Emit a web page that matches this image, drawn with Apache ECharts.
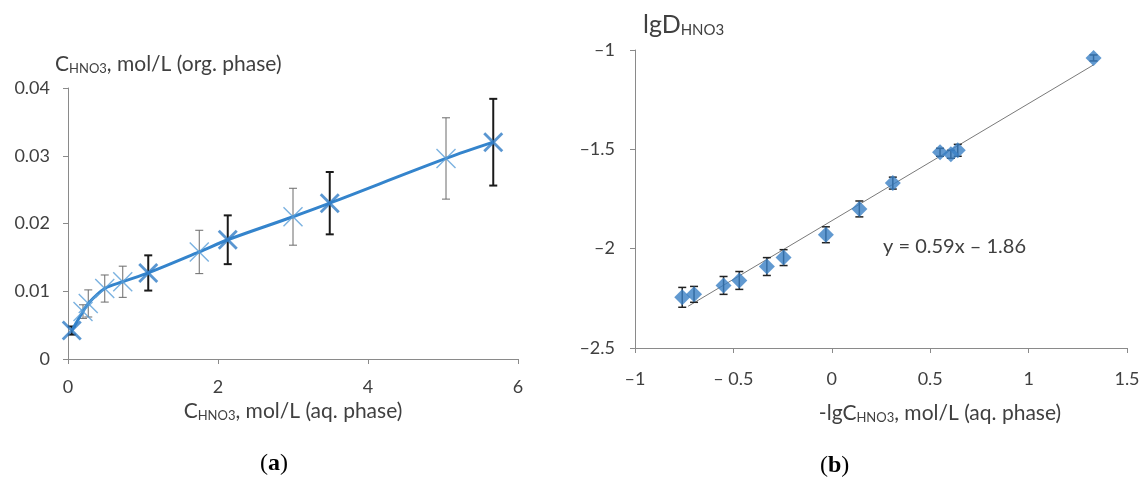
<!DOCTYPE html>
<html>
<head>
<meta charset="utf-8">
<script src="https://cdn.jsdelivr.net/npm/echarts/dist/echarts.min.js"></script>
<style>
  html, body { margin: 0; padding: 0; background: #fff; }
  #main { width: 1142px; height: 479px; }
</style>
</head>
<body>
<div id="main"></div>
<script>
// (a) organic vs aqueous HNO3, two sets of points (thin / bold markers)
const thinX = [0.2, 0.27, 0.49, 0.73, 1.75, 3.0, 5.04];
const thinY = [0.0070, 0.0082, 0.0104, 0.0114, 0.0158, 0.0210, 0.0296];
const thinErr = [0.0010, 0.0020, 0.0020, 0.0023, 0.0032, 0.0042, 0.0060];
const boldX = [0.05, 1.07, 2.13, 3.49, 5.67];
const boldY = [0.0042, 0.0127, 0.0176, 0.0230, 0.0320];
const boldErr = [0.0006, 0.0026, 0.0036, 0.0046, 0.0064];
const xTicksA = ["0", "2", "4", "6"];
const yTicksA = ["0", "0.01", "0.02", "0.03", "0.04"];

// (b) lgD vs -lgC with linear fit
const lgC = [-0.76, -0.70, -0.55, -0.47, -0.33, -0.245, -0.03, 0.14, 0.31, 0.55, 0.605, 0.64, 1.33];
const lgD = [-2.245, -2.23, -2.185, -2.16, -2.09, -2.045, -1.93, -1.80, -1.67, -1.515, -1.525, -1.505, -1.04];
const lgDErr = [0.05, 0.04, 0.045, 0.045, 0.045, 0.04, 0.04, 0.04, 0.03, 0.02, 0.02, 0.03, 0.015];
const fitX = [-0.73, 1.33];
const fitY = [-2.29, -1.075];
const xTicksB = ["\u20131", "\u2013 0.5", "0", "0.5", "1", "1.5"];
const yTicksB = ["\u20132.5", "\u20132", "\u20131.5", "\u20131"];
const fitLabel = "y = 0.59x \u2013 1.86";

const FONT = "Lato";
const TXT = "#404040";
const AXIS = "#8a8a8a";
const BLUE = "#3484cc";

let thin = thinX.map((x, i) => [x, thinY[i], thinErr[i]]);
let bold = boldX.map((x, i) => [x, boldY[i], boldErr[i]]);
let curve = thin.concat(bold).map(d => [d[0], d[1]]).sort((a, b) => a[0] - b[0]);
let pts = lgC.map((x, i) => [x, lgD[i], lgDErr[i]]);
let fit = fitX.map((x, i) => [x, fitY[i]]);

function errBar(color, width, cap) {
  return function (params, api) {
    let x = api.value(0), y = api.value(1), e = api.value(2);
    let top = api.coord([x, y + e]);
    let bot = api.coord([x, y - e]);
    let st = { stroke: color, lineWidth: width };
    return {
      type: "group",
      children: [
        { type: "line", shape: { x1: top[0], y1: top[1], x2: bot[0], y2: bot[1] }, style: st },
        { type: "line", shape: { x1: top[0] - cap, y1: top[1], x2: top[0] + cap, y2: top[1] }, style: st },
        { type: "line", shape: { x1: bot[0] - cap, y1: bot[1], x2: bot[0] + cap, y2: bot[1] }, style: st }
      ]
    };
  };
}

const xThin = "path://M1,0 L10,9 L19,0 L20,1 L11,10 L20,19 L19,20 L10,11 L1,20 L0,19 L9,10 L0,1 Z";
const xBold = "path://M2,0 L10,8 L18,0 L20,2 L12,10 L20,18 L18,20 L10,12 L2,20 L0,18 L8,10 L0,2 Z";

function lab(arr, min, step) {
  return v => arr[Math.round((v - min) / step)];
}
let tickFont = { color: TXT, fontFamily: FONT, fontSize: 18 };
let nameFont = {
  color: TXT, fontFamily: FONT, fontSize: 21,
  rich: { sub: { fontSize: 13, fontFamily: FONT, color: TXT, padding: [9, 0, 0, 0] } }
};

let myChart = echarts.init(document.getElementById("main"));
myChart.setOption({
  animation: false,
  backgroundColor: "#fff",
  grid: [
    { left: 68, top: 88, width: 450, height: 271, outerBoundsMode: "none" },
    { left: 635, top: 50, width: 492, height: 298, outerBoundsMode: "none" }
  ],
  xAxis: [
    {
      gridIndex: 0, type: "value", min: 0, max: 6, interval: 2,
      name: "C{sub|HNO3}, mol/L (aq. phase)", nameLocation: "middle", nameGap: 39,
      nameTextStyle: nameFont,
      axisLine: { lineStyle: { color: AXIS } },
      axisTick: { show: true, length: 5, lineStyle: { color: AXIS } },
      splitLine: { show: false },
      axisLabel: Object.assign({ margin: 19, formatter: lab(xTicksA, 0, 2) }, tickFont)
    },
    {
      gridIndex: 1, type: "value", min: -1, max: 1.5, interval: 0.5,
      name: "-lgC{sub|HNO3}, mol/L (aq. phase)", nameLocation: "middle", nameGap: 54,
      nameTextStyle: Object.assign({ padding: [0, 0, 0, 118] }, nameFont),
      axisLine: { onZero: false, lineStyle: { color: AXIS } },
      axisTick: { show: true, length: 5, lineStyle: { color: AXIS } },
      splitLine: { show: false },
      axisLabel: Object.assign({ margin: 22, formatter: lab(xTicksB, -1, 0.5) }, tickFont)
    }
  ],
  yAxis: [
    {
      gridIndex: 0, type: "value", min: 0, max: 0.04, interval: 0.01,
      axisLine: { show: true, lineStyle: { color: AXIS } },
      axisTick: { show: true, length: 5, lineStyle: { color: AXIS } },
      splitLine: { show: false },
      axisLabel: Object.assign({ margin: 18, formatter: lab(yTicksA, 0, 0.01) }, tickFont)
    },
    {
      gridIndex: 1, type: "value", min: -2.5, max: -1, interval: 0.5,
      axisLine: { show: true, onZero: false, lineStyle: { color: AXIS } },
      axisTick: { show: true, length: 5, lineStyle: { color: AXIS } },
      splitLine: { show: false },
      axisLabel: Object.assign({ margin: 20, formatter: lab(yTicksB, -2.5, 0.5) }, tickFont)
    }
  ],
  series: [
    {
      type: "custom", xAxisIndex: 0, yAxisIndex: 0, data: thin,
      renderItem: errBar("#6b6b6b", 1, 4), z: 2
    },
    {
      type: "custom", xAxisIndex: 0, yAxisIndex: 0, data: bold,
      renderItem: errBar("#1a1a1a", 2, 4), z: 2
    },
    {
      type: "line", xAxisIndex: 0, yAxisIndex: 0, data: curve, smooth: 0.35,
      showSymbol: false, lineStyle: { color: BLUE, width: 3 }, z: 3
    },
    {
      type: "scatter", xAxisIndex: 0, yAxisIndex: 0, data: thin.map(d => [d[0], d[1]]),
      symbol: xThin, symbolSize: 20, itemStyle: { color: "#5a9fd8" }, z: 4
    },
    {
      type: "scatter", xAxisIndex: 0, yAxisIndex: 0, data: bold.map(d => [d[0], d[1]]),
      symbol: xBold, symbolSize: 20, itemStyle: { color: "#2f7cc6" }, z: 4
    },
    {
      type: "line", xAxisIndex: 1, yAxisIndex: 1, data: fit,
      showSymbol: false, lineStyle: { color: "#7a7a7a", width: 1 }, z: 2
    },
    {
      type: "custom", xAxisIndex: 1, yAxisIndex: 1, data: pts,
      renderItem: errBar("#222", 1.5, 4), z: 3
    },
    {
      type: "scatter", xAxisIndex: 1, yAxisIndex: 1, data: pts.map(d => [d[0], d[1]]),
      symbol: "diamond", symbolSize: 16, itemStyle: { color: "#3a80c4" }, z: 4
    }
  ],
  graphic: [
    {
      type: "text", left: 55, top: 54,
      style: {
        text: "C{sub|HNO3}, mol/L (org. phase)", fill: TXT, font: "21px " + FONT,
        rich: { sub: { fontSize: 13, fontFamily: FONT, fill: TXT, padding: [9, 0, 0, 0] } }
      }
    },
    {
      type: "text", left: 643, top: 12,
      style: {
        text: "lgD{sub|HNO3}", fill: TXT, font: "25px " + FONT,
        rich: { sub: { fontSize: 15, fontFamily: FONT, fill: TXT, padding: [11, 0, 0, 0] } }
      }
    },
    {
      type: "text", left: 883, top: 237,
      style: { text: fitLabel, fill: TXT, font: "20px " + FONT }
    },
    {
      type: "text", left: 260, top: 452,
      style: {
        text: "({b|a})", fill: "#000", font: "24px 'Liberation Serif'",
        rich: { b: { fontWeight: "bold", fontSize: 24, fontFamily: "Liberation Serif" } }
      }
    },
    {
      type: "text", left: 820, top: 454,
      style: {
        text: "({b|b})", fill: "#000", font: "24px 'Liberation Serif'",
        rich: { b: { fontWeight: "bold", fontSize: 24, fontFamily: "Liberation Serif" } }
      }
    }
  ]
});
</script>
</body>
</html>
